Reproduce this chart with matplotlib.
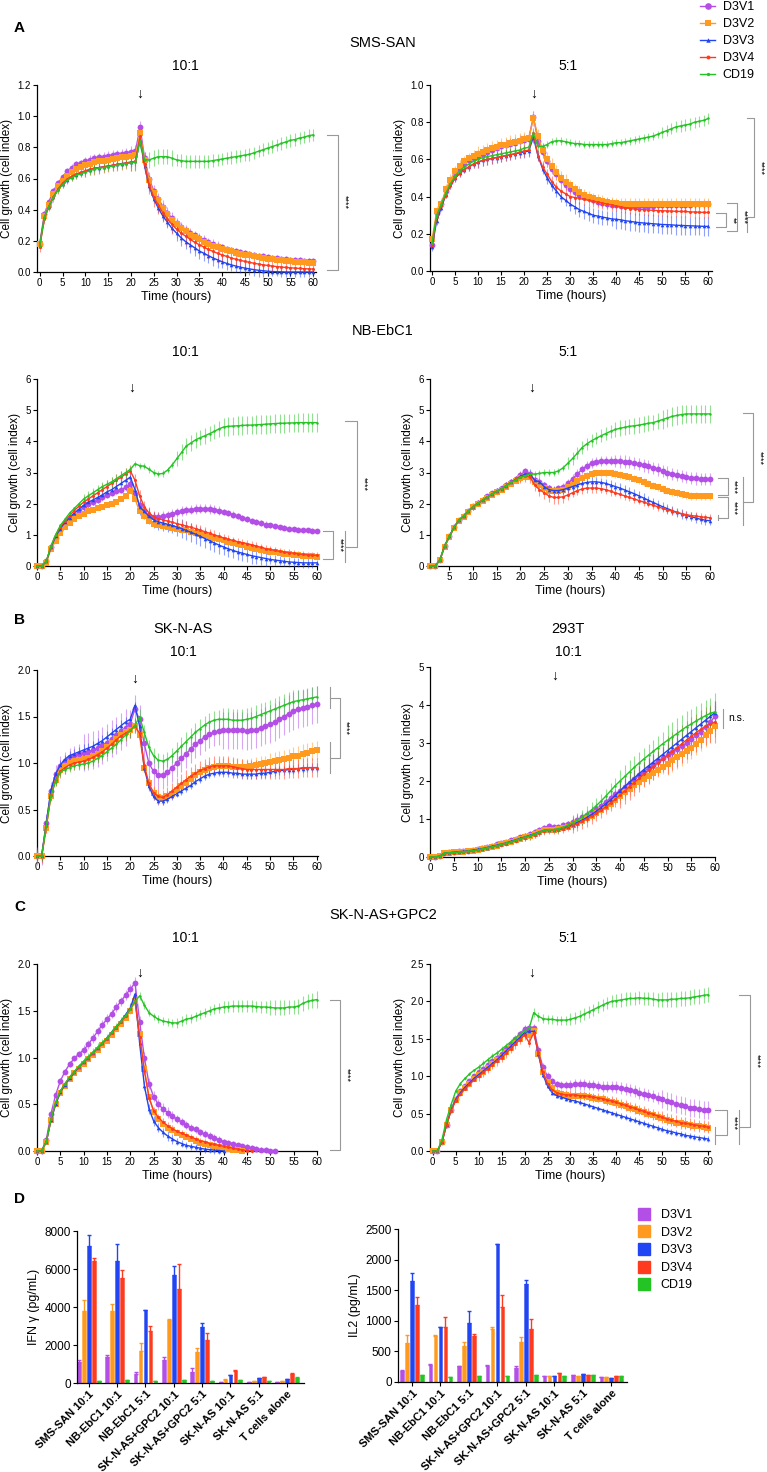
import numpy as np
import matplotlib.pyplot as plt
from matplotlib.colors import to_rgba
from matplotlib.lines import Line2D

plt.rcParams['font.family'] = ['Liberation Sans', 'DejaVu Sans']

nan = float('nan')

groups = ['D3V1', 'D3V2', 'D3V3', 'D3V4', 'CD19']
colors = ['#B34FE6', '#FF9A1F', '#2145F2', '#FF3B1F', '#25C425']
markers = ['o', 's', '^', 'o', 'o']
msizes = [4.2, 4.0, 2.6, 2.2, 1.8]

hours = list(range(61))
hours_nb5 = list(range(1, 61))

# ---- A: SMS-SAN 10:1
sms10_v1 = [0.18, 0.37, 0.45, 0.52, 0.57, 0.61, 0.645, 0.67, 0.69, 0.70,
            0.71, 0.72, 0.73, 0.735, 0.74, 0.745, 0.75, 0.755, 0.76, 0.765,
            0.77, 0.775, 0.93, 0.73, 0.60, 0.52, 0.47, 0.42, 0.38, 0.345,
            0.315, 0.29, 0.27, 0.25, 0.235, 0.22, 0.205, 0.19, 0.18, 0.17,
            0.16, 0.15, 0.142, 0.135, 0.128, 0.122, 0.116, 0.11, 0.105, 0.10,
            0.096, 0.092, 0.088, 0.085, 0.082, 0.079, 0.077, 0.075, 0.073, 0.071,
            0.07]
sms10_v2 = [0.18, 0.36, 0.43, 0.50, 0.55, 0.585, 0.615, 0.64, 0.66, 0.675,
            0.685, 0.695, 0.705, 0.71, 0.715, 0.72, 0.725, 0.73, 0.735, 0.74,
            0.745, 0.75, 0.89, 0.72, 0.59, 0.51, 0.46, 0.41, 0.37, 0.335,
            0.305, 0.28, 0.26, 0.24, 0.225, 0.21, 0.195, 0.18, 0.17, 0.16,
            0.15, 0.14, 0.132, 0.125, 0.118, 0.112, 0.106, 0.10, 0.095, 0.09,
            0.086, 0.082, 0.078, 0.075, 0.072, 0.069, 0.066, 0.063, 0.061, 0.059,
            0.057]
sms10_v3 = [0.17, 0.35, 0.42, 0.48, 0.53, 0.565, 0.59, 0.61, 0.625, 0.635,
            0.645, 0.655, 0.665, 0.67, 0.675, 0.68, 0.685, 0.69, 0.695, 0.70,
            0.705, 0.71, 0.85, 0.68, 0.55, 0.47, 0.41, 0.36, 0.32, 0.28,
            0.25, 0.22, 0.195, 0.175, 0.155, 0.135, 0.12, 0.105, 0.09, 0.078,
            0.066, 0.055, 0.046, 0.038, 0.031, 0.025, 0.02, 0.015, 0.011, 0.008,
            0.005, 0.003, 0.002, 0.001, 0, 0, 0, 0, 0, 0,
            0]
sms10_v4 = [0.16, 0.34, 0.42, 0.48, 0.53, 0.57, 0.595, 0.615, 0.63, 0.64,
            0.65, 0.66, 0.665, 0.67, 0.675, 0.68, 0.685, 0.69, 0.695, 0.70,
            0.705, 0.71, 0.87, 0.69, 0.56, 0.48, 0.43, 0.38, 0.34, 0.305,
            0.275, 0.25, 0.23, 0.21, 0.19, 0.175, 0.16, 0.145, 0.132, 0.12,
            0.11, 0.10, 0.09, 0.082, 0.075, 0.068, 0.062, 0.056, 0.051, 0.046,
            0.042, 0.038, 0.035, 0.032, 0.029, 0.027, 0.025, 0.023, 0.021, 0.02,
            0.019]
sms10_cd19 = [0.17, 0.35, 0.42, 0.48, 0.525, 0.56, 0.59, 0.605, 0.62, 0.63,
              0.64, 0.65, 0.66, 0.665, 0.67, 0.675, 0.68, 0.685, 0.69, 0.695,
              0.70, 0.705, 0.84, 0.72, 0.72, 0.73, 0.74, 0.74, 0.74, 0.73,
              0.72, 0.715, 0.71, 0.71, 0.71, 0.71, 0.71, 0.71, 0.715, 0.72,
              0.725, 0.73, 0.735, 0.74, 0.745, 0.75, 0.755, 0.765, 0.775, 0.785,
              0.795, 0.805, 0.815, 0.825, 0.835, 0.845, 0.85, 0.86, 0.865, 0.875,
              0.88]
# error bars, one value per 10-hour block (last entry is hour 60)
sms10_sd = [[0.02, 0.03, 0.04, 0.03, 0.02, 0.02, 0.02],
            [0.02, 0.02, 0.02, 0.02, 0.02, 0.02, 0.02],
            [0.01, 0.02, 0.03, 0.05, 0.04, 0.03, 0.03],
            [0.03, 0.04, 0.06, 0.06, 0.04, 0.03, 0.03],
            [0.02, 0.03, 0.05, 0.04, 0.04, 0.04, 0.04]]

# ---- A: SMS-SAN 5:1
sms5_v1 = [0.14, 0.31, 0.36, 0.43, 0.48, 0.52, 0.55, 0.575, 0.595, 0.61,
           0.62, 0.63, 0.64, 0.65, 0.66, 0.67, 0.68, 0.685, 0.69, 0.70,
           0.705, 0.71, 0.83, 0.70, 0.64, 0.59, 0.55, 0.52, 0.49, 0.465,
           0.44, 0.425, 0.41, 0.40, 0.39, 0.38, 0.372, 0.366, 0.361, 0.357,
           0.354, 0.352, 0.35, 0.35, 0.35, 0.35, 0.35, 0.35, 0.352, 0.353,
           0.354, 0.355, 0.355, 0.355, 0.355, 0.356, 0.357, 0.358, 0.359, 0.36,
           0.36]
sms5_v2 = [0.17, 0.32, 0.36, 0.44, 0.49, 0.535, 0.565, 0.59, 0.605, 0.62,
           0.63, 0.64, 0.65, 0.66, 0.665, 0.675, 0.68, 0.69, 0.695, 0.70,
           0.71, 0.715, 0.82, 0.725, 0.65, 0.60, 0.565, 0.53, 0.50, 0.48,
           0.46, 0.44, 0.425, 0.41, 0.40, 0.39, 0.383, 0.376, 0.37, 0.366,
           0.363, 0.36, 0.36, 0.36, 0.36, 0.36, 0.36, 0.36, 0.36, 0.36,
           0.36, 0.36, 0.36, 0.36, 0.36, 0.36, 0.36, 0.36, 0.36, 0.36,
           0.36]
sms5_v3 = [0.13, 0.27, 0.34, 0.41, 0.46, 0.50, 0.525, 0.545, 0.56, 0.575,
           0.585, 0.595, 0.60, 0.605, 0.61, 0.615, 0.62, 0.625, 0.63, 0.635,
           0.64, 0.645, 0.72, 0.62, 0.55, 0.50, 0.46, 0.43, 0.40, 0.38,
           0.36, 0.345, 0.33, 0.32, 0.31, 0.30, 0.295, 0.29, 0.285, 0.28,
           0.278, 0.275, 0.27, 0.267, 0.263, 0.26, 0.258, 0.256, 0.254, 0.252,
           0.25, 0.249, 0.248, 0.246, 0.245, 0.244, 0.243, 0.242, 0.241, 0.24,
           0.24]
sms5_v4 = [0.14, 0.29, 0.35, 0.41, 0.46, 0.50, 0.525, 0.545, 0.56, 0.575,
           0.585, 0.595, 0.60, 0.605, 0.61, 0.615, 0.62, 0.625, 0.63, 0.64,
           0.645, 0.65, 0.74, 0.62, 0.56, 0.52, 0.48, 0.45, 0.43, 0.415,
           0.40, 0.395, 0.39, 0.385, 0.38, 0.375, 0.37, 0.365, 0.36, 0.355,
           0.35, 0.345, 0.34, 0.335, 0.333, 0.33, 0.33, 0.328, 0.326, 0.325,
           0.324, 0.323, 0.322, 0.321, 0.32, 0.32, 0.318, 0.317, 0.316, 0.315,
           0.315]
sms5_cd19 = [0.15, 0.30, 0.36, 0.42, 0.47, 0.51, 0.54, 0.56, 0.575, 0.59,
             0.60, 0.61, 0.615, 0.62, 0.625, 0.63, 0.635, 0.64, 0.645, 0.65,
             0.66, 0.665, 0.74, 0.67, 0.67, 0.68, 0.695, 0.70, 0.70, 0.695,
             0.69, 0.685, 0.685, 0.68, 0.68, 0.68, 0.68, 0.68, 0.68, 0.685,
             0.69, 0.69, 0.695, 0.70, 0.705, 0.71, 0.715, 0.72, 0.725, 0.735,
             0.745, 0.755, 0.765, 0.775, 0.78, 0.785, 0.79, 0.80, 0.805, 0.81,
             0.82]
sms5_sd = [[0.02, 0.03, 0.03, 0.02, 0.02, 0.02, 0.02],
           [0.03, 0.04, 0.04, 0.03, 0.03, 0.03, 0.03],
           [0.02, 0.03, 0.03, 0.04, 0.05, 0.05, 0.05],
           [0.02, 0.03, 0.03, 0.03, 0.03, 0.03, 0.03],
           [0.02, 0.02, 0.02, 0.02, 0.02, 0.03, 0.03]]

# ---- A: NB-EbC1 10:1
nb10_v1 = [0, 0, 0.15, 0.6, 0.9, 1.15, 1.35, 1.5, 1.62, 1.75,
           1.88, 1.98, 2.05, 2.12, 2.2, 2.27, 2.33, 2.4, 2.45, 2.52,
           2.62, 2.3, 1.95, 1.75, 1.62, 1.57, 1.58, 1.6, 1.63, 1.67,
           1.72, 1.76, 1.79, 1.81, 1.83, 1.84, 1.84, 1.83, 1.81, 1.78,
           1.74, 1.70, 1.65, 1.60, 1.55, 1.50, 1.45, 1.41, 1.37, 1.33,
           1.30, 1.27, 1.24, 1.22, 1.20, 1.18, 1.16, 1.15, 1.14, 1.13,
           1.13]
nb10_v2 = [0, 0, 0.1, 0.55, 0.8, 1.05, 1.25, 1.38, 1.5, 1.6,
           1.68, 1.75, 1.8, 1.85, 1.9, 1.95, 2.0, 2.05, 2.15, 2.25,
           2.42, 2.15, 1.75, 1.6, 1.45, 1.35, 1.32, 1.29, 1.26, 1.23,
           1.2, 1.17, 1.14, 1.10, 1.06, 1.02, 0.98, 0.94, 0.90, 0.86,
           0.82, 0.78, 0.74, 0.70, 0.66, 0.62, 0.58, 0.55, 0.52, 0.49,
           0.46, 0.44, 0.42, 0.40, 0.38, 0.36, 0.34, 0.33, 0.32, 0.31,
           0.30]
nb10_v3 = [0, 0, 0.15, 0.6, 0.95, 1.2, 1.4, 1.55, 1.7, 1.82,
           1.95, 2.05, 2.12, 2.2, 2.28, 2.38, 2.45, 2.55, 2.65, 2.75,
           2.85, 2.45, 1.9, 1.75, 1.6, 1.48, 1.42, 1.38, 1.34, 1.30,
           1.25, 1.20, 1.14, 1.08, 1.02, 0.95, 0.88, 0.81, 0.74, 0.67,
           0.61, 0.55, 0.50, 0.45, 0.41, 0.37, 0.33, 0.30, 0.27, 0.24,
           0.21, 0.19, 0.17, 0.15, 0.13, 0.12, 0.11, 0.10, 0.10, 0.10,
           0.10]
nb10_v4 = [0, 0, 0.15, 0.62, 1.0, 1.25, 1.45, 1.62, 1.78, 1.92,
           2.05, 2.15, 2.25, 2.35, 2.45, 2.55, 2.65, 2.75, 2.85, 2.95,
           3.05, 2.75, 2.25, 1.9, 1.7, 1.58, 1.52, 1.48, 1.44, 1.40,
           1.36, 1.32, 1.28, 1.24, 1.20, 1.15, 1.10, 1.05, 1.0, 0.95,
           0.90, 0.86, 0.82, 0.78, 0.75, 0.72, 0.68, 0.64, 0.60, 0.56,
           0.53, 0.50, 0.47, 0.45, 0.43, 0.41, 0.39, 0.37, 0.36, 0.35,
           0.34]
nb10_cd19 = [0, 0, 0.15, 0.65, 1.0, 1.3, 1.5, 1.7, 1.85, 2.0,
             2.15, 2.25, 2.35, 2.45, 2.55, 2.62, 2.7, 2.8, 2.9, 3.0,
             3.1, 3.28, 3.22, 3.2, 3.1, 3.0, 2.95, 2.97, 3.08, 3.25,
             3.45, 3.65, 3.85, 3.95, 4.05, 4.12, 4.18, 4.25, 4.32, 4.4,
             4.46, 4.48, 4.49, 4.5, 4.51, 4.52, 4.52, 4.53, 4.54, 4.55,
             4.56, 4.57, 4.58, 4.58, 4.59, 4.59, 4.6, 4.6, 4.6, 4.6,
             4.6]
nb10_sd = [[0.05, 0.1, 0.15, 0.15, 0.1, 0.08, 0.06],
           [0.04, 0.05, 0.06, 0.06, 0.05, 0.05, 0.05],
           [0.05, 0.15, 0.25, 0.3, 0.25, 0.15, 0.1],
           [0.05, 0.2, 0.2, 0.15, 0.12, 0.1, 0.1],
           [0.05, 0.15, 0.1, 0.25, 0.3, 0.3, 0.3]]

# ---- A: NB-EbC1 5:1 (hours 1-60)
nb5_v1 = [0, 0, 0.2, 0.65, 0.95, 1.25, 1.47, 1.62, 1.78,
          1.92, 2.03, 2.13, 2.23, 2.33, 2.42, 2.5, 2.6, 2.7, 2.8,
          2.92, 3.05, 2.95, 2.75, 2.7, 2.6, 2.5, 2.45, 2.5, 2.55,
          2.65, 2.8, 2.95, 3.1, 3.22, 3.3, 3.35, 3.37, 3.38, 3.38,
          3.37, 3.36, 3.35, 3.33, 3.3, 3.27, 3.23, 3.2, 3.15, 3.1,
          3.05, 3.0, 2.96, 2.92, 2.88, 2.85, 2.83, 2.81, 2.8, 2.8,
          2.8]
nb5_v2 = [0, 0, 0.18, 0.62, 0.92, 1.22, 1.44, 1.58, 1.74,
          1.88, 1.99, 2.09, 2.19, 2.29, 2.37, 2.45, 2.55, 2.64, 2.73,
          2.82, 2.85, 2.85, 2.7, 2.6, 2.5, 2.42, 2.4, 2.42, 2.45,
          2.52, 2.6, 2.72, 2.82, 2.9, 2.95, 2.97, 2.98, 2.98, 2.97,
          2.95, 2.92, 2.88, 2.84, 2.8, 2.75, 2.7, 2.64, 2.58, 2.52,
          2.47, 2.42, 2.38, 2.34, 2.3, 2.27, 2.25, 2.24, 2.23, 2.23,
          2.23]
nb5_v3 = [0, 0, 0.2, 0.65, 0.95, 1.25, 1.47, 1.6, 1.76,
          1.9, 2.01, 2.11, 2.21, 2.31, 2.4, 2.48, 2.58, 2.68, 2.78,
          2.88, 2.95, 2.95, 2.75, 2.7, 2.55, 2.45, 2.42, 2.42, 2.45,
          2.5, 2.55, 2.6, 2.65, 2.68, 2.7, 2.7, 2.68, 2.65, 2.6,
          2.55, 2.5, 2.44, 2.38, 2.32, 2.25, 2.18, 2.11, 2.04, 1.97,
          1.9, 1.84, 1.78, 1.72, 1.67, 1.62, 1.58, 1.54, 1.5, 1.47,
          1.45]
nb5_v4 = [0, 0, 0.2, 0.65, 0.95, 1.25, 1.47, 1.6, 1.76,
          1.9, 2.01, 2.11, 2.21, 2.31, 2.4, 2.48, 2.58, 2.68, 2.78,
          2.86, 2.9, 2.85, 2.6, 2.45, 2.35, 2.25, 2.2, 2.2, 2.22,
          2.28, 2.35, 2.42, 2.47, 2.5, 2.5, 2.5, 2.48, 2.45, 2.4,
          2.35, 2.3, 2.25, 2.2, 2.15, 2.1, 2.05, 2.0, 1.95, 1.9,
          1.85, 1.8, 1.76, 1.72, 1.68, 1.65, 1.62, 1.6, 1.58, 1.56,
          1.55]
nb5_cd19 = [0, 0, 0.2, 0.65, 0.95, 1.25, 1.47, 1.6, 1.76,
            1.9, 2.01, 2.11, 2.21, 2.31, 2.4, 2.48, 2.58, 2.68, 2.76,
            2.84, 2.9, 2.95, 2.95, 2.97, 3.0, 3.0, 3.0, 3.05, 3.15,
            3.3, 3.45, 3.62, 3.8, 3.92, 4.02, 4.1, 4.18, 4.25, 4.32,
            4.38, 4.42, 4.45, 4.48, 4.5, 4.52, 4.55, 4.58, 4.6, 4.65,
            4.7, 4.75, 4.8, 4.83, 4.86, 4.88, 4.88, 4.88, 4.88, 4.88,
            4.88]
nb5_sd = [[0.05, 0.08, 0.1, 0.15, 0.2, 0.2, 0.2],
          [0.05, 0.08, 0.1, 0.12, 0.12, 0.12, 0.12],
          [0.05, 0.1, 0.15, 0.15, 0.15, 0.15, 0.15],
          [0.05, 0.1, 0.2, 0.15, 0.12, 0.12, 0.12],
          [0.05, 0.08, 0.1, 0.2, 0.25, 0.3, 0.3]]

# ---- B: SK-N-AS 10:1
skn10_v1 = [0, 0, 0.35, 0.70, 0.88, 0.97, 1.02, 1.06, 1.08, 1.10,
            1.11, 1.12, 1.14, 1.16, 1.19, 1.22, 1.26, 1.30, 1.34, 1.38,
            1.42, 1.58, 1.47, 1.21, 1.0, 0.91, 0.87, 0.87, 0.9, 0.95,
            1.0, 1.05, 1.1, 1.15, 1.2, 1.24, 1.28, 1.31, 1.33, 1.34,
            1.35, 1.35, 1.35, 1.35, 1.35, 1.34, 1.35, 1.36, 1.38, 1.4,
            1.42, 1.44, 1.47, 1.5, 1.53, 1.56, 1.58, 1.59, 1.6, 1.62,
            1.63]
skn10_v2 = [0, 0, 0.3, 0.65, 0.82, 0.92, 0.97, 1.0, 1.02, 1.03,
            1.04, 1.05, 1.07, 1.1, 1.13, 1.17, 1.21, 1.26, 1.3, 1.33,
            1.36, 1.4, 1.3, 0.95, 0.78, 0.68, 0.63, 0.62, 0.64, 0.67,
            0.71, 0.75, 0.79, 0.83, 0.87, 0.9, 0.93, 0.95, 0.96, 0.97,
            0.97, 0.97, 0.96, 0.96, 0.96, 0.96, 0.97, 0.98, 0.99, 1.0,
            1.01, 1.02, 1.03, 1.04, 1.05, 1.07, 1.08, 1.1, 1.11, 1.13,
            1.14]
skn10_v3 = [0, 0, 0.36, 0.71, 0.88, 0.98, 1.04, 1.08, 1.10, 1.12,
            1.14, 1.16, 1.18, 1.21, 1.24, 1.28, 1.32, 1.36, 1.40, 1.44,
            1.47, 1.62, 1.4, 0.95, 0.75, 0.64, 0.59, 0.59, 0.61, 0.64,
            0.67, 0.7, 0.73, 0.76, 0.8, 0.83, 0.86, 0.88, 0.89, 0.9,
            0.9, 0.9, 0.89, 0.89, 0.88, 0.88, 0.88, 0.88, 0.89, 0.89,
            0.9, 0.91, 0.92, 0.92, 0.93, 0.93, 0.94, 0.94, 0.95, 0.95,
            0.95]
skn10_v4 = [0, 0, 0.32, 0.66, 0.82, 0.91, 0.95, 0.98, 1.0, 1.01,
            1.02, 1.04, 1.06, 1.09, 1.12, 1.16, 1.2, 1.25, 1.29, 1.32,
            1.35, 1.4, 1.32, 0.98, 0.78, 0.68, 0.64, 0.63, 0.66, 0.7,
            0.74, 0.78, 0.82, 0.86, 0.89, 0.92, 0.94, 0.96, 0.97, 0.97,
            0.97, 0.97, 0.96, 0.95, 0.94, 0.93, 0.93, 0.93, 0.93, 0.93,
            0.93, 0.93, 0.93, 0.93, 0.94, 0.94, 0.94, 0.95, 0.95, 0.95,
            0.95]
skn10_cd19 = [0, 0, 0.33, 0.65, 0.8, 0.9, 0.93, 0.95, 0.97, 0.98,
              0.99, 1.0, 1.02, 1.05, 1.08, 1.12, 1.16, 1.2, 1.25, 1.3,
              1.35, 1.4, 1.5, 1.33, 1.17, 1.08, 1.03, 1.02, 1.04, 1.08,
              1.13, 1.18, 1.23, 1.28, 1.33, 1.37, 1.41, 1.44, 1.46, 1.47,
              1.47, 1.47, 1.46, 1.46, 1.46, 1.47, 1.48, 1.5, 1.52, 1.54,
              1.56, 1.58, 1.6, 1.62, 1.64, 1.66, 1.67, 1.68, 1.69, 1.7,
              1.71]
skn10_sd = [[0.1, 0.2, 0.15, 0.15, 0.2, 0.2, 0.2],
            [0.05, 0.06, 0.06, 0.07, 0.08, 0.1, 0.1],
            [0.05, 0.06, 0.04, 0.04, 0.05, 0.05, 0.05],
            [0.07, 0.08, 0.08, 0.1, 0.1, 0.1, 0.1],
            [0.05, 0.05, 0.08, 0.1, 0.12, 0.12, 0.12]]

# ---- B: 293T 10:1
hek_v1 = [0, 0, 0.02, 0.1, 0.12, 0.14, 0.15, 0.16, 0.17, 0.19,
          0.21, 0.24, 0.27, 0.3, 0.33, 0.36, 0.4, 0.44, 0.48, 0.52,
          0.56, 0.6, 0.65, 0.7, 0.76, 0.82, 0.8, 0.8, 0.83, 0.88,
          0.93, 0.98, 1.04, 1.1, 1.18, 1.26, 1.35, 1.45, 1.55, 1.65,
          1.75, 1.85, 1.95, 2.05, 2.15, 2.25, 2.34, 2.43, 2.52, 2.6,
          2.68, 2.76, 2.84, 2.92, 3.0, 3.1, 3.2, 3.3, 3.42, 3.55,
          3.7]
hek_v2 = [0, 0, 0.02, 0.1, 0.11, 0.12, 0.13, 0.14, 0.15, 0.17,
          0.19, 0.21, 0.24, 0.27, 0.3, 0.33, 0.36, 0.4, 0.44, 0.48,
          0.52, 0.56, 0.6, 0.65, 0.7, 0.72, 0.72, 0.73, 0.76, 0.8,
          0.85, 0.9, 0.96, 1.02, 1.08, 1.15, 1.23, 1.31, 1.4, 1.5,
          1.6, 1.7, 1.8, 1.9, 1.98, 2.06, 2.14, 2.22, 2.3, 2.38,
          2.46, 2.54, 2.62, 2.7, 2.78, 2.88, 2.98, 3.08, 3.2, 3.32,
          3.45]
hek_v3 = [0, 0, 0.02, 0.1, 0.11, 0.13, 0.14, 0.15, 0.16, 0.18,
          0.2, 0.22, 0.25, 0.28, 0.31, 0.34, 0.37, 0.41, 0.45, 0.49,
          0.53, 0.57, 0.61, 0.66, 0.7, 0.72, 0.72, 0.73, 0.76, 0.8,
          0.85, 0.91, 0.97, 1.04, 1.12, 1.2, 1.3, 1.4, 1.5, 1.62,
          1.74, 1.86, 1.97, 2.08, 2.19, 2.3, 2.4, 2.5, 2.6, 2.7,
          2.8, 2.9, 3.0, 3.1, 3.2, 3.3, 3.4, 3.5, 3.6, 3.7,
          3.8]
hek_v4 = [0, 0, 0.02, 0.08, 0.1, 0.11, 0.12, 0.13, 0.14, 0.16,
          0.18, 0.2, 0.23, 0.26, 0.29, 0.32, 0.35, 0.39, 0.43, 0.47,
          0.51, 0.55, 0.59, 0.64, 0.68, 0.7, 0.7, 0.71, 0.74, 0.78,
          0.83, 0.88, 0.94, 1.0, 1.07, 1.15, 1.23, 1.32, 1.42, 1.52,
          1.63, 1.74, 1.85, 1.96, 2.07, 2.18, 2.28, 2.38, 2.48, 2.58,
          2.68, 2.78, 2.88, 2.98, 3.08, 3.18, 3.27, 3.36, 3.44, 3.5,
          3.55]
hek_cd19 = [0, 0, 0.02, 0.1, 0.11, 0.12, 0.13, 0.14, 0.15, 0.17,
            0.19, 0.21, 0.24, 0.27, 0.3, 0.33, 0.36, 0.4, 0.44, 0.48,
            0.52, 0.56, 0.6, 0.65, 0.7, 0.72, 0.72, 0.74, 0.78, 0.84,
            0.9, 0.97, 1.05, 1.14, 1.24, 1.35, 1.47, 1.6, 1.74, 1.88,
            2.0, 2.12, 2.24, 2.36, 2.47, 2.58, 2.68, 2.78, 2.88, 2.98,
            3.07, 3.16, 3.25, 3.34, 3.43, 3.5, 3.58, 3.65, 3.72, 3.78,
            3.82]
hek_sd = [[0.02, 0.05, 0.08, 0.15, 0.25, 0.3, 0.3],
          [0.02, 0.04, 0.06, 0.1, 0.2, 0.3, 0.3],
          [0.02, 0.04, 0.06, 0.12, 0.2, 0.25, 0.3],
          [0.03, 0.05, 0.1, 0.2, 0.35, 0.5, 0.55],
          [0.02, 0.04, 0.1, 0.2, 0.3, 0.4, 0.5]]

# ---- C: SK-N-AS+GPC2 10:1
gpc10_v1 = [0, 0, 0.12, 0.4, 0.6, 0.75, 0.85, 0.93, 0.99, 1.04,
            1.08, 1.14, 1.21, 1.28, 1.35, 1.41, 1.47, 1.54, 1.6, 1.67,
            1.73, 1.8, 1.38, 1.0, 0.72, 0.58, 0.5, 0.45, 0.41, 0.37,
            0.34, 0.31, 0.28, 0.25, 0.23, 0.2, 0.18, 0.16, 0.14, 0.12,
            0.1, 0.09, 0.08, 0.06, 0.05, 0.04, 0.03, 0.02, 0.015, 0.01,
            0.005, 0.0, nan, nan, nan, nan, nan, nan, nan, nan,
            nan]
gpc10_v2 = [0, 0, 0.1, 0.33, 0.5, 0.62, 0.7, 0.77, 0.83, 0.88,
            0.93, 0.98, 1.03, 1.08, 1.13, 1.18, 1.24, 1.3, 1.36, 1.42,
            1.5, 1.6, 1.25, 0.88, 0.58, 0.42, 0.34, 0.29, 0.25, 0.22,
            0.19, 0.17, 0.15, 0.13, 0.11, 0.09, 0.08, 0.06, 0.05, 0.04,
            0.03, 0.02, 0.015, 0.01, 0.0, nan, nan, nan, nan, nan,
            nan, nan, nan, nan, nan, nan, nan, nan, nan, nan,
            nan]
gpc10_v3 = [0, 0, 0.1, 0.33, 0.5, 0.63, 0.71, 0.78, 0.84, 0.9,
            0.95, 1.0, 1.05, 1.1, 1.15, 1.21, 1.27, 1.33, 1.39, 1.46,
            1.53, 1.68, 1.15, 0.7, 0.45, 0.32, 0.25, 0.2, 0.16, 0.13,
            0.1, 0.08, 0.06, 0.05, 0.04, 0.03, 0.02, 0.015, 0.01, 0.005,
            0.0, nan, nan, nan, nan, nan, nan, nan, nan, nan,
            nan, nan, nan, nan, nan, nan, nan, nan, nan, nan,
            nan]
gpc10_v4 = [0, 0, 0.1, 0.34, 0.52, 0.64, 0.72, 0.79, 0.85, 0.9,
            0.95, 1.0, 1.05, 1.1, 1.15, 1.2, 1.26, 1.32, 1.38, 1.44,
            1.52, 1.6, 1.22, 0.86, 0.57, 0.43, 0.36, 0.31, 0.27, 0.24,
            0.21, 0.19, 0.17, 0.15, 0.13, 0.11, 0.1, 0.08, 0.07, 0.06,
            0.05, 0.04, 0.03, 0.02, 0.01, 0.005, 0.0, nan, nan, nan,
            nan, nan, nan, nan, nan, nan, nan, nan, nan, nan,
            nan]
gpc10_cd19 = [0, 0, 0.1, 0.34, 0.52, 0.64, 0.72, 0.79, 0.85, 0.91,
              0.96, 1.01, 1.06, 1.11, 1.16, 1.21, 1.27, 1.33, 1.39, 1.45,
              1.52, 1.6, 1.66, 1.56, 1.48, 1.44, 1.41, 1.39, 1.38, 1.37,
              1.37, 1.39, 1.41, 1.42, 1.44, 1.46, 1.48, 1.5, 1.52, 1.53,
              1.54, 1.545, 1.55, 1.55, 1.55, 1.55, 1.55, 1.545, 1.54, 1.54,
              1.535, 1.53, 1.53, 1.53, 1.54, 1.54, 1.55, 1.58, 1.6, 1.61,
              1.62]
gpc10_sd = [[0.03, 0.05, 0.06, 0.04, 0.03, 0.02, 0.02],
            [0.02, 0.02, 0.03, 0.02, 0.02, 0.02, 0.02],
            [0.02, 0.02, 0.05, 0.04, 0.02, 0.02, 0.02],
            [0.02, 0.03, 0.04, 0.03, 0.02, 0.02, 0.02],
            [0.02, 0.04, 0.04, 0.05, 0.06, 0.08, 0.09]]

# ---- C: SK-N-AS+GPC2 5:1
gpc5_v1 = [0, 0, 0.12, 0.35, 0.55, 0.7, 0.8, 0.87, 0.94, 1.0,
           1.05, 1.1, 1.15, 1.2, 1.25, 1.3, 1.36, 1.43, 1.5, 1.57,
           1.63, 1.65, 1.65, 1.35, 1.12, 1.0, 0.93, 0.89, 0.88, 0.88,
           0.88, 0.89, 0.89, 0.89, 0.88, 0.88, 0.87, 0.86, 0.86, 0.86,
           0.85, 0.84, 0.83, 0.81, 0.8, 0.78, 0.76, 0.75, 0.73, 0.71,
           0.69, 0.67, 0.65, 0.63, 0.61, 0.6, 0.58, 0.57, 0.56, 0.55,
           0.55]
gpc5_v2 = [0, 0, 0.12, 0.35, 0.55, 0.68, 0.77, 0.84, 0.9, 0.96,
           1.01, 1.06, 1.11, 1.16, 1.21, 1.26, 1.32, 1.38, 1.44, 1.5,
           1.56, 1.55, 1.6, 1.3, 1.05, 0.92, 0.84, 0.78, 0.76, 0.75,
           0.74, 0.74, 0.74, 0.73, 0.72, 0.71, 0.7, 0.69, 0.67, 0.66,
           0.64, 0.62, 0.6, 0.58, 0.56, 0.54, 0.52, 0.5, 0.48, 0.46,
           0.44, 0.42, 0.4, 0.38, 0.37, 0.36, 0.35, 0.34, 0.33, 0.32,
           0.31]
gpc5_v3 = [0, 0, 0.12, 0.35, 0.55, 0.69, 0.78, 0.85, 0.91, 0.97,
           1.02, 1.07, 1.12, 1.17, 1.22, 1.28, 1.34, 1.4, 1.46, 1.52,
           1.58, 1.6, 1.6, 1.3, 1.02, 0.87, 0.78, 0.74, 0.72, 0.7,
           0.68, 0.67, 0.65, 0.63, 0.61, 0.59, 0.57, 0.55, 0.53, 0.51,
           0.49, 0.47, 0.45, 0.43, 0.41, 0.39, 0.37, 0.35, 0.33, 0.31,
           0.29, 0.27, 0.26, 0.24, 0.23, 0.21, 0.2, 0.19, 0.18, 0.17,
           0.16]
gpc5_v4 = [0, 0, 0.12, 0.35, 0.54, 0.67, 0.76, 0.83, 0.89, 0.95,
           1.0, 1.05, 1.1, 1.15, 1.2, 1.25, 1.31, 1.37, 1.43, 1.49,
           1.55, 1.45, 1.58, 1.32, 1.05, 0.9, 0.82, 0.78, 0.76, 0.75,
           0.75, 0.75, 0.74, 0.74, 0.73, 0.72, 0.71, 0.7, 0.68, 0.67,
           0.65, 0.63, 0.61, 0.59, 0.57, 0.55, 0.53, 0.51, 0.49, 0.47,
           0.45, 0.43, 0.41, 0.4, 0.38, 0.37, 0.36, 0.35, 0.34, 0.33,
           0.32]
gpc5_cd19 = [0, 0, 0.15, 0.42, 0.62, 0.8, 0.9, 0.97, 1.03, 1.08,
             1.12, 1.17, 1.22, 1.27, 1.31, 1.36, 1.41, 1.46, 1.51, 1.56,
             1.61, 1.64, 1.85, 1.8, 1.77, 1.76, 1.76, 1.75, 1.75, 1.75,
             1.76, 1.78, 1.8, 1.83, 1.86, 1.89, 1.92, 1.95, 1.98, 2.0,
             2.01, 2.02, 2.03, 2.04, 2.04, 2.05, 2.04, 2.04, 2.03, 2.02,
             2.02, 2.02, 2.03, 2.03, 2.04, 2.04, 2.05, 2.06, 2.07, 2.08,
             2.09]
gpc5_sd = [[0.02, 0.04, 0.05, 0.07, 0.08, 0.12, 0.12],
           [0.02, 0.04, 0.05, 0.05, 0.05, 0.05, 0.05],
           [0.02, 0.03, 0.03, 0.03, 0.04, 0.04, 0.04],
           [0.02, 0.06, 0.06, 0.06, 0.07, 0.08, 0.08],
           [0.02, 0.04, 0.06, 0.08, 0.09, 0.1, 0.1]]

# ---- D: cytokines
conditions = ['SMS-SAN 10:1', 'NB-EbC1 10:1', 'NB-EbC1 5:1', 'SK-N-AS+GPC2 10:1',
              'SK-N-AS+GPC2 5:1', 'SK-N-AS 10:1', 'SK-N-AS 5:1', 'T cells alone']
ifng_v1 = [1085, 1345, 490, 1190, 590, 70, 50, 70]
ifng_v2 = [3770, 3790, 1690, 3320, 1640, 160, 105, 105]
ifng_v3 = [7210, 6440, 3840, 5710, 2950, 420, 240, 190]
ifng_v4 = [6420, 5520, 2760, 4940, 2270, 610, 330, 470]
ifng_cd19 = [105, 140, 105, 140, 105, 140, 120, 280]
ifng_err = [[105, 105, 110, 190, 210, 0, 0, 0],
            [600, 350, 390, 50, 180, 30, 0, 0],
            [580, 850, 0, 470, 190, 20, 20, 0],
            [170, 450, 250, 1340, 340, 50, 10, 40],
            [0, 0, 0, 0, 0, 0, 0, 20]]
il2_v1 = [175, 275, 257, 268, 235, 104, 115, 82]
il2_v2 = [645, 755, 596, 859, 651, 104, 104, 82]
il2_v3 = [1647, 897, 957, 2254, 1597, 104, 126, 71]
il2_v4 = [1258, 903, 755, 1220, 864, 142, 115, 104]
il2_cd19 = [110, 88, 98, 93, 110, 104, 115, 93]
il2_err = [[25, 15, 10, 15, 22, 0, 0, 0],
           [115, 10, 54, 38, 87, 0, 0, 0],
           [131, 0, 197, 5, 77, 0, 0, 0],
           [132, 153, 27, 197, 164, 0, 0, 0],
           [0, 0, 0, 0, 0, 0, 0, 0]]

W, H = 767, 1472
fig = plt.figure(figsize=(W / 100, H / 100), dpi=100)


def px_axes(l, t, r, b):
    return fig.add_axes([l / W, 1 - b / H, (r - l) / W, (b - t) / H])


def ftext(x, y, s, **kw):
    fig.text(x / W, 1 - y / H, s, ha=kw.pop('ha', 'center'), va='center', **kw)


def style(ax):
    for side in ['top', 'right']:
        ax.spines[side].set_visible(False)
    for side in ['left', 'bottom']:
        ax.spines[side].set_linewidth(0.9)
    ax.tick_params(length=3, width=0.8, labelsize=7, pad=1.5)


def bracket(ax, x0, x1, ylo, yhi, label, grp=()):
    tr = ax.get_yaxis_transform()
    kw = dict(color='0.6', lw=0.8, transform=tr, clip_on=False)
    ax.plot([x0, x1, x1, x0], [yhi, yhi, ylo, ylo], **kw)
    for g0, g1 in grp:
        ax.plot([x0, x0], [g0, g1], **kw)
    ax.text(x1 + 0.006, (ylo + yhi) / 2, label, rotation=270, fontsize=6.5,
            ha='left', va='center', transform=tr)


panels = [
    (hours, [sms10_v1, sms10_v2, sms10_v3, sms10_v4, sms10_cd19], sms10_sd,
     (37, 85, 316, 272), (-0.6, 60.6), range(0, 61, 5), (0, 1.2), np.arange(0, 1.21, 0.2), '%.1f', 22,
     [(1.039, 1.079, 0.015, 0.88, '****', ())]),
    (hours, [sms5_v1, sms5_v2, sms5_v3, sms5_v4, sms5_cd19], sms5_sd,
     (430, 85, 712, 271), (-0.45, 60.8), range(0, 61, 5), (0, 1.0), np.arange(0, 1.01, 0.2), '%.1f', 22,
     [(1.014, 1.050, 0.235, 0.31, '**', ()), (1.054, 1.090, 0.215, 0.365, '****', ()),
      (1.125, 1.150, 0.29, 0.82, '****', [(0.21, 0.29)])]),
    (hours, [nb10_v1, nb10_v2, nb10_v3, nb10_v4, nb10_cd19], nb10_sd,
     (37, 379, 317, 566), (0, 60), range(0, 61, 5), (0, 6), range(0, 7), '%d', 20.3,
     [(1.021, 1.057, 0.24, 1.13, '****', ()), (1.10, 1.143, 0.61, 4.65, '****', [(0.13, 1.13)])]),
    (hours_nb5, [nb5_v1, nb5_v2, nb5_v3, nb5_v4, nb5_cd19], nb5_sd,
     (430, 379, 710, 566), (0.9, 60), range(5, 61, 5), (0, 6), range(0, 7), '%d', 22.3,
     [(1.029, 1.064, 2.27, 2.83, '****', ()), (1.029, 1.064, 1.55, 2.2, '****', [(1.47, 1.65)]),
      (1.118, 1.154, 2.06, 4.9, '****', [(1.31, 2.86)])]),
    (hours, [skn10_v1, skn10_v2, skn10_v3, skn10_v4, skn10_cd19], skn10_sd,
     (37, 670, 318, 856), (0, 60.3), range(0, 61, 5), (0, 2), np.arange(0, 2.01, 0.5), '%.1f', 21,
     [(1.043, 1.078, 1.05, 1.7, '****', [(1.59, 1.82), (0.89, 1.23)])]),
    (hours, [hek_v1, hek_v2, hek_v3, hek_v4, hek_cd19], hek_sd,
     (430, 667, 715, 857), (0, 60), range(0, 61, 5), (0, 5), range(0, 6), '%d', 26.3, []),
    (hours, [gpc10_v1, gpc10_v2, gpc10_v3, gpc10_v4, gpc10_cd19], gpc10_sd,
     (37, 964, 317, 1151), (0, 60), range(0, 61, 5), (0, 2), np.arange(0, 2.01, 0.5), '%.1f', 22,
     [(1.046, 1.082, 0.01, 1.62, '****', ())]),
    (hours, [gpc5_v1, gpc5_v2, gpc5_v3, gpc5_v4, gpc5_cd19], gpc5_sd,
     (430, 964, 710, 1151), (-0.6, 60.4), range(0, 61, 5), (0, 2.5), np.arange(0, 2.51, 0.5), '%.1f', 21.6,
     [(1.018, 1.061, 0.21, 0.55, '****', [(0.1, 0.32)]),
      (1.104, 1.143, 0.32, 2.09, '****', [(0.1, 0.55)])]),
]

for t, series, sds, rect, xlim, xt, ylim, yt, fmt, arrow_t, brackets in panels:
    ax = px_axes(*rect)
    style(ax)
    tt = np.array(t)
    for y, sd, c, m, ms in zip(series, sds, colors, markers, msizes):
        err = np.array(sd)[tt // 10]
        ax.errorbar(tt, y, yerr=err, color=c, marker=m, ms=ms, mew=0, lw=1.0,
                    ecolor=to_rgba(c, 0.5), elinewidth=0.8, capsize=1.6, capthick=0.8,
                    clip_on=False, zorder=3)
    ax.set_xlim(*xlim)
    ax.set_ylim(*ylim)
    ax.set_xticks(list(xt))
    ax.set_yticks(list(yt))
    ax.set_yticklabels([fmt % v for v in yt])
    ax.set_xlabel('Time (hours)', fontsize=9, labelpad=2)
    ax.set_ylabel('Cell growth (cell index)', fontsize=8.5, labelpad=3)
    ax.text(arrow_t, 0.955, '\u2193', transform=ax.get_xaxis_transform(),
            ha='center', va='center', fontsize=10)
    for b in brackets:
        bracket(ax, *b)
    if not brackets:
        tr = ax.get_yaxis_transform()
        ax.plot([1.028, 1.028], [3.4, 3.9], color='0.6', lw=0.8, transform=tr, clip_on=False)
        ax.text(1.045, 3.65, 'n.s.', fontsize=7.5, ha='left', va='center', transform=tr)

# panel titles
ftext(14, 28, 'A', fontsize=11, fontweight='bold', ha='left')
ftext(383, 43, 'SMS-SAN', fontsize=10.5)
ftext(185, 66, '10:1', fontsize=10)
ftext(568, 66, '5:1', fontsize=10)
ftext(383, 331, 'NB-EbC1', fontsize=10.5)
ftext(185, 352, '10:1', fontsize=10)
ftext(568, 352, '5:1', fontsize=10)
ftext(14, 620, 'B', fontsize=11, fontweight='bold', ha='left')
ftext(183, 629, 'SK-N-AS', fontsize=10.5)
ftext(183, 652, '10:1', fontsize=10)
ftext(568, 629, '293T', fontsize=10.5)
ftext(568, 652, '10:1', fontsize=10)
ftext(14, 907, 'C', fontsize=11, fontweight='bold', ha='left')
ftext(383, 915, 'SK-N-AS+GPC2', fontsize=10.5)
ftext(185, 938, '10:1', fontsize=10)
ftext(568, 938, '5:1', fontsize=10)
ftext(14, 1199, 'D', fontsize=11, fontweight='bold', ha='left')

# top legend
handles = [Line2D([], [], color=c, marker=m, ms=ms + 0.6, mew=0, lw=1)
           for c, m, ms in zip(colors, markers, msizes)]
fig.legend(handles, groups, loc='upper left', bbox_to_anchor=(700 / W, 1 - 1 / H),
           frameon=False, fontsize=9, handlelength=1.2, handletextpad=0.6,
           labelspacing=0.4, borderpad=0, borderaxespad=0)

# bar charts
offsets = np.array([-2, -1, 0, 1, 2]) * 0.175
x = np.arange(len(conditions))
bar_sets = [
    ((77, 1231, 304, 1383), [ifng_v1, ifng_v2, ifng_v3, ifng_v4, ifng_cd19], ifng_err,
     (0, 8000), range(0, 8001, 2000), 'IFN \u03b3 (pg/mL)', (-0.42, 7.6)),
    ((398, 1229, 627, 1382), [il2_v1, il2_v2, il2_v3, il2_v4, il2_cd19], il2_err,
     (0, 2500), range(0, 2501, 500), 'IL2 (pg/mL)', (-0.49, 7.55)),
]
for rect, vals, errs, ylim, yt, ylab, xlim in bar_sets:
    ax = px_axes(*rect)
    style(ax)
    for v, e, c, off in zip(vals, errs, colors, offsets):
        ax.bar(x + off, v, width=0.13, color=c, edgecolor=to_rgba(c, 0.6), lw=0.5,
               yerr=[np.zeros(len(e)), e],
               error_kw=dict(ecolor=c, elinewidth=1.0, capsize=1.6, capthick=1.0))
    ax.set_xlim(*xlim)
    ax.set_ylim(*ylim)
    ax.set_yticks(list(yt))
    ax.tick_params(axis='y', labelsize=8.5)
    ax.set_xticks(x)
    ax.set_xticklabels(conditions, rotation=45, ha='right', rotation_mode='anchor',
                       fontsize=8, fontweight='bold')
    ax.set_ylabel(ylab, fontsize=9, labelpad=3)

bar_handles = [Line2D([], [], color=c, marker='s', ms=8, lw=0) for c in colors]
fig.legend(bar_handles, groups, loc='upper left', bbox_to_anchor=(638 / W, 1 - 1209 / H),
           frameon=False, fontsize=9, handlelength=1.0, handletextpad=0.8,
           labelspacing=0.45, borderpad=0, borderaxespad=0)

fig.savefig('out.png', dpi=100)
